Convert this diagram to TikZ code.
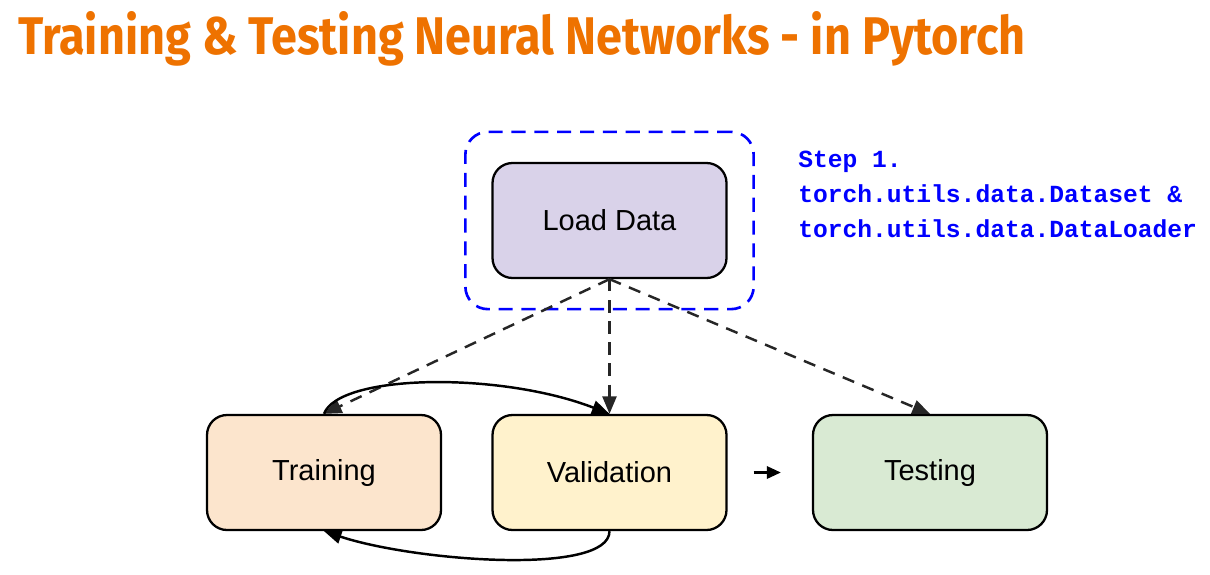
\documentclass[tikz,border=0pt]{standalone}
\usepackage{fontspec}
\setmainfont{Liberation Sans}
\newfontfamily\titlefont{Fira Sans}
\newfontfamily\codefont{Liberation Mono}
\usetikzlibrary{positioning,fit,arrows.meta}
\definecolor{ttlorange}{RGB}{238,114,0}
\definecolor{ldfill}{HTML}{D9D2E9}
\definecolor{trfill}{HTML}{FCE5CD}
\definecolor{vafill}{HTML}{FFF2CC}
\definecolor{tefill}{HTML}{D9EAD3}
\tikzset{
  stage/.style={draw, line width=1.3pt, rounded corners=0.4cm,
    minimum width=4.68cm, minimum height=2.3cm, font=\fontsize{16.5}{18}\selectfont},
  feed/.style={-{Triangle[length=10pt,width=8pt]}, line width=1.4pt,
    dash pattern=on 7pt off 5pt, black!85},
  loop/.style={-{Triangle[length=10pt,width=8pt]}, line width=1.4pt}
}
\begin{document}
\begin{tikzpicture}
\useasboundingbox (0,0) rectangle (24.2,11.48);
% title
\node[anchor=base west, inner sep=0, text=ttlorange] (title) at (0.36,10.38)
  {\resizebox{20.14cm}{0.86cm}{\titlefont\bfseries Training \& Testing Neural Networks - in Pytorch}};
% stages
\node[stage, fill=ldfill] (ld) at (12.19,7.07) {Load Data};
\node[stage, fill=trfill] (tr) at (6.48,2.03) {Training};
\node[stage, fill=vafill] (va) at (12.19,2.03) {Validation};
\node[stage, fill=tefill] (te) at (18.6,2.03) {Testing};
\node[draw=blue, line width=1.5pt, dash pattern=on 8pt off 5pt, rounded corners=0.45cm,
  inner xsep=0.52cm, inner ysep=0.6cm, fit=(ld)] (grp) {};
\node[anchor=north west, align=left, text=blue, inner sep=0,
  font=\codefont\bfseries\fontsize{14}{19.9}\selectfont] (step) at (15.96,8.46)
  {Step 1.\\torch.utils.data.Dataset \&\\torch.utils.data.DataLoader};
% data flow
\foreach \t in {tr,va,te}
  \draw[feed] (ld.south) -- (\t.north);
% train / validate loop
\draw[loop] (tr.north) .. controls +(0.3,0.8) and +(-2.2,0.85) .. (va.north);
\draw[loop] (va.south) .. controls +(0,-0.9) and +(1.8,-0.6) .. (tr.south);
\draw[-{Triangle[length=8pt,width=7pt]}, line width=1.4pt,
  shorten <=0.52cm, shorten >=0.62cm] (va) -- (te);
\end{tikzpicture}
\end{document}
